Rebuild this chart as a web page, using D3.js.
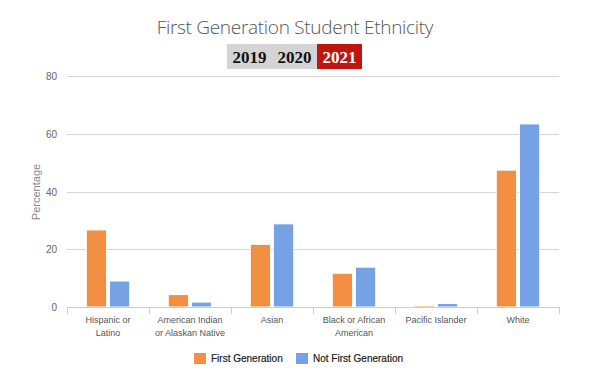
<!DOCTYPE html>
<html>
<head>
<meta charset="utf-8">
<script src="https://cdn.jsdelivr.net/npm/d3@7.9.0/dist/d3.min.js"></script>
<style>
  body { margin: 0; background: #fff; }
  svg { display: block; }
</style>
</head>
<body>
<svg id="chart" width="590" height="382"></svg>
<script>
const categories = [
  ['Hispanic or', 'Latino'],
  ['American Indian', 'or Alaskan Native'],
  ['Asian'],
  ['Black or African', 'American'],
  ['Pacific Islander'],
  ['White'],
];
const seriesNames = ['First Generation', 'Not First Generation'];
const firstGen = [26.7, 4.3, 21.7, 11.7, 0.5, 47.4];
const notFirstGen = [9.0, 1.7, 28.8, 13.8, 1.2, 63.4];
const yTicks = [0, 20, 40, 60, 80];
const years = ['2019', '2020', '2021'];
const selectedYear = '2021';

const colors = ['#f28f43', '#77a1e5'];
const svg = d3.select('#chart');

const margin = { left: 67, right: 31, top: 76, bottom: 75 };
const width = 590 - margin.left - margin.right;
const height = 382 - margin.top - margin.bottom;

const g = svg.append('g').attr('transform', `translate(${margin.left},${margin.top})`);

const x = d3.scaleBand().domain(d3.range(categories.length)).range([0, width]);
const x1 = d3.scaleBand().domain([0, 1]).range([x.bandwidth() * 0.235, x.bandwidth() * 0.765]).paddingInner(0.12);
const y = d3.scaleLinear().domain([0, 80]).range([height, 0]);

// title
svg.append('text')
  .attr('x', 295).attr('y', 34)
  .attr('text-anchor', 'middle')
  .attr('font-family', 'Open Sans, sans-serif')
  .attr('font-weight', 300)
  .attr('font-size', 19)
  .attr('letter-spacing', -0.3)
  .attr('fill', '#555')
  .text('First Generation Student Ethnicity');

// year buttons
const yearX = [227, 272, 317];
const yearW = [45, 45, 45];
years.forEach((yr, i) => {
  svg.append('rect')
    .attr('x', yearX[i]).attr('y', 44)
    .attr('width', yearW[i]).attr('height', 25)
    .attr('fill', yr === selectedYear ? '#c0140f' : '#d4d4d4');
  svg.append('text')
    .attr('x', yearX[i] + yearW[i] / 2).attr('y', 63)
    .attr('text-anchor', 'middle')
    .attr('font-family', 'Liberation Serif, serif')
    .attr('font-weight', 'bold')
    .attr('font-size', 17)
    .attr('fill', yr === selectedYear ? '#fff' : '#111')
    .text(yr);
});

// grid lines
g.selectAll('.grid')
  .data(yTicks.filter((d) => d > 0))
  .join('line')
  .attr('x1', 0).attr('x2', width)
  .attr('y1', (d) => Math.round(y(d)) + 0.5).attr('y2', (d) => Math.round(y(d)) + 0.5)
  .attr('stroke', '#d4d4d4')
  .attr('stroke-width', 1);

// y labels
g.selectAll('.ylab')
  .data(yTicks)
  .join('text')
  .attr('x', -10).attr('y', (d) => y(d) + 4)
  .attr('text-anchor', 'end')
  .attr('font-family', 'Liberation Sans, Arial, sans-serif')
  .attr('font-size', 10)
  .attr('fill', '#666')
  .text((d) => d);

svg.append('text')
  .attr('transform', 'translate(40,192) rotate(-90)')
  .attr('text-anchor', 'middle')
  .attr('font-family', 'Liberation Sans, Arial, sans-serif')
  .attr('font-size', 11)
  .attr('fill', '#888')
  .text('Percentage');

// bars
const rows = categories.map((c, i) => [firstGen[i], notFirstGen[i]]);
const groups = g.selectAll('.grp')
  .data(rows)
  .join('g')
  .attr('transform', (_d, i) => `translate(${x(i)},0)`);

groups.selectAll('rect')
  .data((d) => d)
  .join('rect')
  .attr('x', (_d, j) => x1(j))
  .attr('width', x1.bandwidth())
  .attr('y', (d) => y(d))
  .attr('height', (d) => height - y(d))
  .attr('fill', (_d, j) => colors[j])
  .attr('stroke', '#fff')
  .attr('stroke-width', 1);

// x axis
g.append('line')
  .attr('x1', 0).attr('x2', width)
  .attr('y1', height + 0.5).attr('y2', height + 0.5)
  .attr('stroke', '#c0d0e0');

g.selectAll('.tick')
  .data(d3.range(categories.length + 1))
  .join('line')
  .attr('x1', (i) => Math.round(i * x.bandwidth()) + 0.5)
  .attr('x2', (i) => Math.round(i * x.bandwidth()) + 0.5)
  .attr('y1', height).attr('y2', height + 7)
  .attr('stroke', '#c0d0e0');

g.selectAll('.xlab')
  .data(categories)
  .join('text')
  .attr('text-anchor', 'middle')
  .attr('font-family', 'Liberation Sans, Arial, sans-serif')
  .attr('font-size', 9)
  .attr('fill', '#555')
  .each(function (lines, i) {
    d3.select(this).selectAll('tspan')
      .data(lines)
      .join('tspan')
      .attr('x', x(i) + x.bandwidth() / 2)
      .attr('y', (_l, k) => height + 16 + k * 13)
      .text((l) => l);
  });

// legend
const legendX = [194, 296];
seriesNames.forEach((name, i) => {
  svg.append('rect')
    .attr('x', legendX[i]).attr('y', 353)
    .attr('width', 12).attr('height', 11)
    .attr('fill', colors[i]);
  svg.append('text')
    .attr('x', legendX[i] + 17).attr('y', 362)
    .attr('font-family', 'Liberation Sans, Arial, sans-serif')
    .attr('font-size', 10)
    .attr('fill', '#222')
    .attr('stroke', '#222')
    .attr('stroke-width', 0.2)
    .text(name);
});
</script>
</body>
</html>
